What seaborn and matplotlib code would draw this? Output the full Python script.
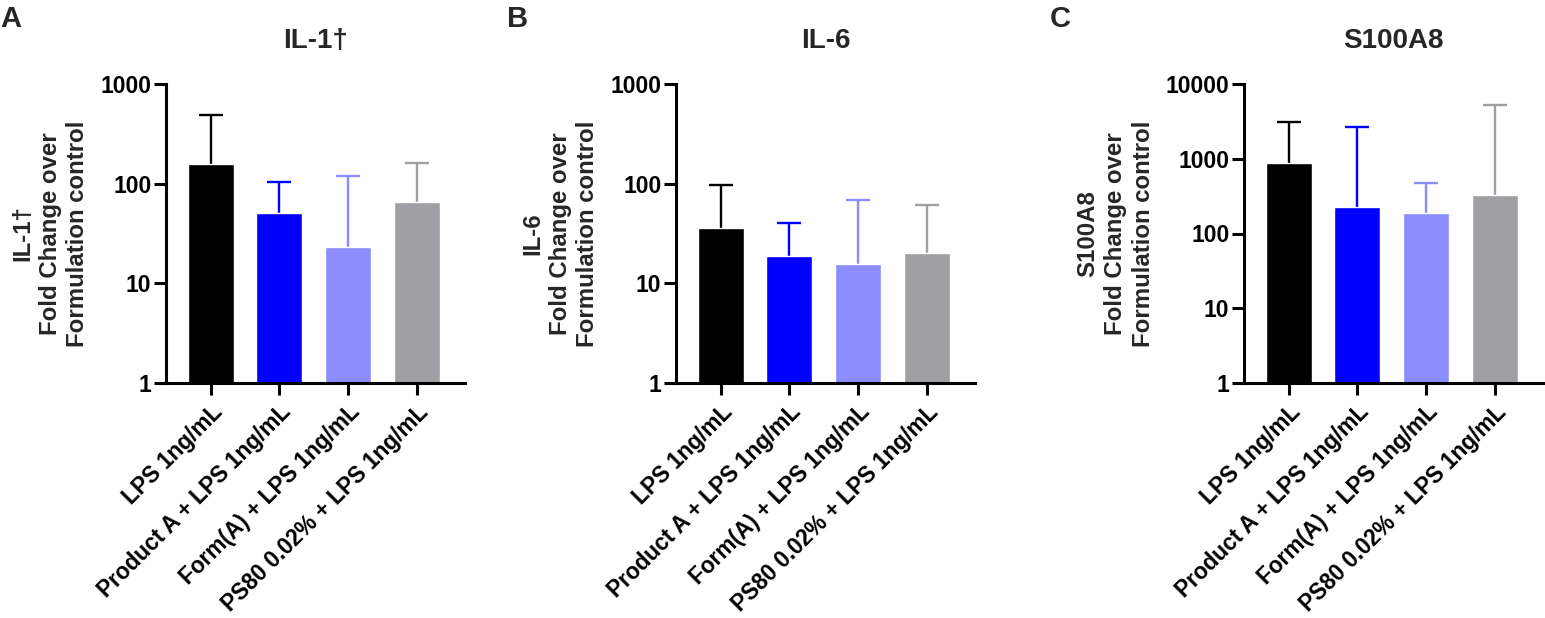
import numpy as np
import pandas as pd
import matplotlib
matplotlib.use("Agg")
import matplotlib.pyplot as plt
import seaborn as sns
from matplotlib.ticker import FixedLocator, FixedFormatter, NullLocator

# ---- data ----
categories = ["LPS 1ng/mL", "Product A + LPS 1ng/mL",
              "Form(A) + LPS 1ng/mL", "PS80 0.02% + LPS 1ng/mL"]
colors = ["#000000", "#0000FF", "#8C8CFF", "#A0A0A4"]

il1_mean = [157, 51, 23, 65]
il1_upper = [490, 105, 120, 160]
il6_mean = [36, 19, 15.6, 20]
il6_upper = [97, 40, 69, 61]
s100_mean = [865, 227, 189, 328]
s100_upper = [3085, 2700, 474, 5250]

titles = ["IL-1\u2020", "IL-6", "S100A8"]
letters = ["A", "B", "C"]
ymax = [1000, 1000, 10000]

sns.set_theme(style="ticks")
plt.rcParams["font.family"] = ["Liberation Sans", "DejaVu Sans"]
plt.rcParams["font.weight"] = "bold"

W, H = 1545, 618
fig = plt.figure(figsize=(W / 100, H / 100), dpi=100)

# axes pixel extents: (left, right)
ext = [(166, 465), (676, 975), (1244, 1543)]
top_px, bot_px = 84, 383
letter_x = [0, 507, 1050]
cap_half = 0.175

panels = [(il1_mean, il1_upper), (il6_mean, il6_upper), (s100_mean, s100_upper)]

for i, (means, uppers) in enumerate(panels):
    l, r = ext[i]
    ax = fig.add_axes([l / W, 1 - bot_px / H, (r - l) / W, (bot_px - top_px) / H])
    df = pd.DataFrame({"group": categories, "value": means})
    sns.barplot(data=df, x="group", y="value", hue="group", palette=colors,
                order=categories, hue_order=categories, width=0.67,
                legend=False, ax=ax, saturation=1, zorder=2)
    for j in range(len(categories)):
        ax.vlines(j, means[j], uppers[j], colors=colors[j], linewidth=1.7, zorder=1)
        ax.hlines(uppers[j], j - cap_half, j + cap_half, colors=colors[j],
                  linewidth=1.7, zorder=1)
    ax.set_yscale("log")
    ax.set_ylim(1, ymax[i])
    ax.set_xlim(-0.65, 3.70)
    yt = [10 ** k for k in range(int(np.log10(ymax[i])) + 1)]
    ax.yaxis.set_major_locator(FixedLocator(yt))
    ax.yaxis.set_major_formatter(FixedFormatter([str(v) for v in yt]))
    ax.yaxis.set_minor_locator(NullLocator())
    for s in ["top", "right"]:
        ax.spines[s].set_visible(False)
    for s in ["left", "bottom"]:
        ax.spines[s].set_linewidth(2.2)
        ax.spines[s].set_color("black")
    ax.tick_params(axis="y", length=8.5, width=2.2, labelsize=16.5, pad=2, colors="black")
    ax.tick_params(axis="x", length=8.5, width=2.2, labelsize=16.3, pad=4, colors="black")
    ax.set_xticks(range(len(categories)))
    ax.set_xticklabels(categories, rotation=45, ha="right", rotation_mode="anchor",
                       fontweight="bold")
    for lab in ax.get_yticklabels():
        lab.set_fontweight("bold")
    ax.set_xlabel("")
    ax.set_ylabel(f"{titles[i]}\nFold Change over\nFormulation control",
                  fontsize=17.3, fontweight="bold", linespacing=1.25, labelpad=8)
    ax.set_title(titles[i], fontsize=20, fontweight="bold", pad=26)
    fig.text(letter_x[i] / W, 1 - 5 / H, letters[i], fontsize=21, fontweight="bold",
             ha="left", va="top")

fig.savefig("out.png", dpi=100)
